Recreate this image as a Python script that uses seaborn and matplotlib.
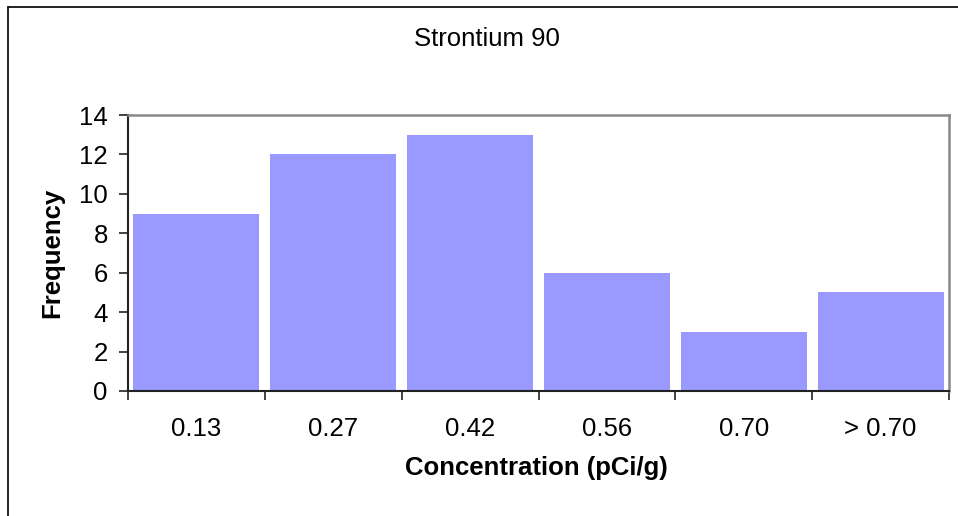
import matplotlib
matplotlib.use('Agg')
import matplotlib.pyplot as plt
import seaborn as sns
import pandas as pd
from matplotlib.lines import Line2D

# Histogram bins and counts
bins = ['0.13', '0.27', '0.42', '0.56', '0.70', '> 0.70']
counts = [9, 12, 13, 6, 3, 5]
yticks = [0, 2, 4, 6, 8, 10, 12, 14]

df = pd.DataFrame({'bin': bins, 'count': counts})

sns.set_style('white')
plt.rcParams['font.family'] = ['Liberation Sans', 'DejaVu Sans']
plt.rcParams['text.color'] = 'black'
fs = 18.5

fig = plt.figure(figsize=(9.58, 5.16), dpi=100)
ax = fig.add_axes([128 / 958, 1 - 391 / 516, (949 - 128) / 958, (391 - 115) / 516])

sns.barplot(data=df, x='bin', y='count', color='#9999FF', saturation=1,
            width=0.92, edgecolor='none', ax=ax)

ax.set_xlim(-0.5, len(bins) - 0.5)
ax.set_ylim(0, 14)
ax.set_yticks(yticks)
ax.set_yticklabels([str(v) for v in yticks], fontsize=fs)
ax.tick_params(axis='y', direction='out', length=6.5, width=1.2, pad=8, color='#222222',
               labelcolor='black', left=True)

# ticks at bin boundaries, labels centred on bins
ax.set_xticks([i - 0.5 for i in range(len(bins) + 1)])
ax.set_xticklabels([])
ax.set_xticks(range(len(bins)), minor=True)
ax.set_xticklabels(bins, minor=True, fontsize=fs)
ax.tick_params(axis='x', which='major', direction='out', length=6.5, width=1.2, color='#222222', bottom=True)
ax.tick_params(axis='x', which='minor', length=0, pad=19, labelcolor='black')

ax.set_xlabel('')
ax.set_ylabel('')

for side in ['left', 'bottom']:
    ax.spines[side].set_color('#222222')
    ax.spines[side].set_linewidth(1.5)
for side in ['top', 'right']:
    ax.spines[side].set_color('#888888')
    ax.spines[side].set_linewidth(1.8)

fig.text(487 / 958, 1 - 46 / 516, 'Strontium 90', fontsize=fs, ha='center', va='baseline')
fig.text(536 / 958, 1 - 475 / 516, 'Concentration (pCi/g)', fontsize=fs,
         fontweight='bold', ha='center', va='baseline')
fig.text(52 / 958, 1 - 253 / 516, 'Frequency', fontsize=fs, fontweight='bold',
         rotation=90, ha='center', va='center')

# outer chart frame (left and top edges visible)
fig.add_artist(Line2D([7.5 / 958, 7.5 / 958], [0, 1 - 7 / 516], color='#111111', lw=1.3,
                      transform=fig.transFigure))
fig.add_artist(Line2D([7.5 / 958, 1], [1 - 7 / 516, 1 - 7 / 516], color='#111111', lw=1.3,
                      transform=fig.transFigure))

fig.savefig('out.png', dpi=100)
